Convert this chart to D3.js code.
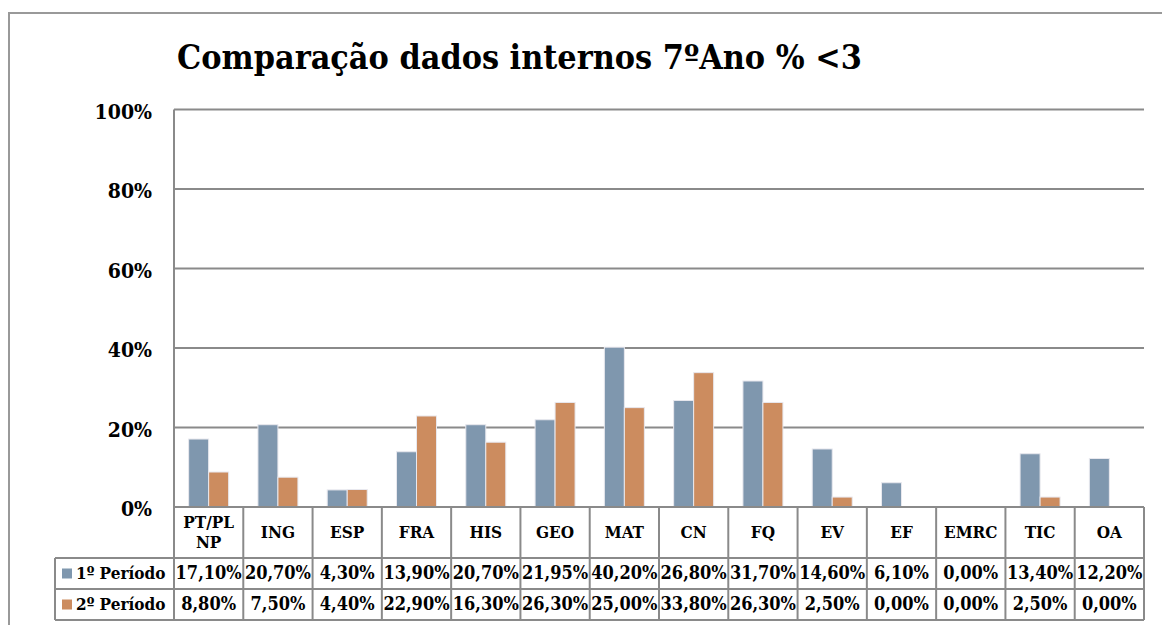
<!DOCTYPE html>
<html><head><meta charset="utf-8">
<script src="https://cdn.jsdelivr.net/npm/d3@7"></script>
<style>body{margin:0;background:#fff}svg{display:block}text{font-family:"DejaVu Serif Condensed","DejaVu Serif","Liberation Serif",serif;font-stretch:condensed;font-weight:bold;fill:#000}</style>
</head><body><svg id="c" width="1162" height="625"></svg>
<script>
const title = "Comparação dados internos 7ºAno % <3";
const categories = ["PT/PL NP","ING","ESP","FRA","HIS","GEO","MAT","CN","FQ","EV","EF","EMRC","TIC","OA"];
const categoryLines = [["PT/PL","NP"],["ING"],["ESP"],["FRA"],["HIS"],["GEO"],["MAT"],["CN"],["FQ"],["EV"],["EF"],["EMRC"],["TIC"],["OA"]];
const seriesNames = ["1º Período","2º Período"];
const periodo1 = [17.10,20.70,4.30,13.90,20.70,21.95,40.20,26.80,31.70,14.60,6.10,0.00,13.40,12.20];
const periodo2 = [8.80,7.50,4.40,22.90,16.30,26.30,25.00,33.80,26.30,2.50,0.00,0.00,2.50,0.00];
const yTicks = [0,20,40,60,80,100];
const colors = ["#7f97ae","#cc8c5f"];

const svg = d3.select("#c");
const L = 174, R = 1144, T = 109.5, B = 507;
const rowH = [51, 31, 31];
const legendLeft = 55;
const gridC = "#8a8a8a";

function fit(sel, w, base){
  sel.attr("font-size", base);
  const tw = sel.node().getComputedTextLength();
  sel.attr("font-size", base*w/tw);
}

// outer frame
svg.append("path").attr("d","M9,625 V13 H1162").attr("fill","none").attr("stroke","#999").attr("stroke-width",2);

const x0 = d3.scaleBand().domain(categories).range([L,R]);
const bw = x0.bandwidth();
const x1 = d3.scaleBand().domain(seriesNames).range([bw/2-20, bw/2+20]);
const y = d3.scaleLinear().domain([0,100]).range([B,T]);

// title
const tt = svg.append("text").attr("x",177).attr("y",69).text(title);
fit(tt, 685, 32);

// gridlines
svg.append("g").selectAll("line").data(yTicks).join("line")
  .attr("x1",L).attr("x2",R).attr("y1",d=>y(d)).attr("y2",d=>y(d))
  .attr("stroke",gridC).attr("stroke-width",2);
// y labels
svg.append("g").selectAll("text").data(yTicks).join("text")
  .attr("x",152).attr("y",d=>y(d)+9).attr("text-anchor","end").attr("font-size",21)
  .text(d=>d+"%");
// left axis
svg.append("line").attr("x1",L).attr("x2",L).attr("y1",T).attr("y2",B+rowH[0]+rowH[1]+rowH[2]).attr("stroke",gridC).attr("stroke-width",2);

// bars
const series = [periodo1, periodo2];
const g = svg.append("g");
series.forEach((vals,si)=>{
  g.selectAll(null).data(vals).join("rect")
    .attr("x",(d,i)=>x0(categories[i])+x1(seriesNames[si]))
    .attr("width",x1.bandwidth())
    .attr("y",d=>y(d))
    .attr("height",d=>B-y(d))
    .attr("fill",colors[si])
    .attr("stroke",d=>d>0?"#e8e8ee":"none").attr("stroke-width",1);
});
svg.append("line").attr("x1",L).attr("x2",R).attr("y1",B).attr("y2",B).attr("stroke",gridC).attr("stroke-width",2);

// table
const tb = svg.append("g");
const yH = B + rowH[0], yR1 = yH + rowH[1], yR2 = yR1 + rowH[2];
const bounds = categories.map(c=>x0(c)).concat([R]);
tb.selectAll("line.v").data(bounds).join("line").attr("class","v")
  .attr("x1",d=>d).attr("x2",d=>d).attr("y1",B).attr("y2",yR2).attr("stroke",gridC).attr("stroke-width",2);
[yH,yR1,yR2].forEach(yy=>tb.append("line").attr("x1",legendLeft).attr("x2",R).attr("y1",yy).attr("y2",yy).attr("stroke",gridC).attr("stroke-width",2));
tb.append("line").attr("x1",legendLeft).attr("x2",legendLeft).attr("y1",yH).attr("y2",yR2).attr("stroke",gridC).attr("stroke-width",2);

// category labels
categoryLines.forEach((lines,i)=>{
  const cx = x0(categories[i]) + bw/2;
  const t = tb.append("text").attr("x",cx).attr("text-anchor","middle").attr("font-size",17);
  lines.forEach((ln,k)=>{
    t.append("tspan").attr("x",cx).attr("y",B + 31 + (k-(lines.length-1)/2)*20).text(ln);
  });
});
// legend rows
const fmt = v => v.toFixed(2).replace(".",",")+"%";
[yH,yR1].forEach((ry,si)=>{
  tb.append("rect").attr("x",62).attr("y",ry+rowH[1]/2-5).attr("width",10).attr("height",10).attr("fill",colors[si]);
  tb.append("text").attr("x",76).attr("y",ry+21).attr("font-size",17).text(seriesNames[si]);
  tb.selectAll(null).data(series[si]).join("text")
    .attr("x",(d,i)=>x0(categories[i])+bw/2).attr("y",ry+21)
    .attr("text-anchor","middle").attr("font-size",18).text(fmt);
});
</script></body></html>
